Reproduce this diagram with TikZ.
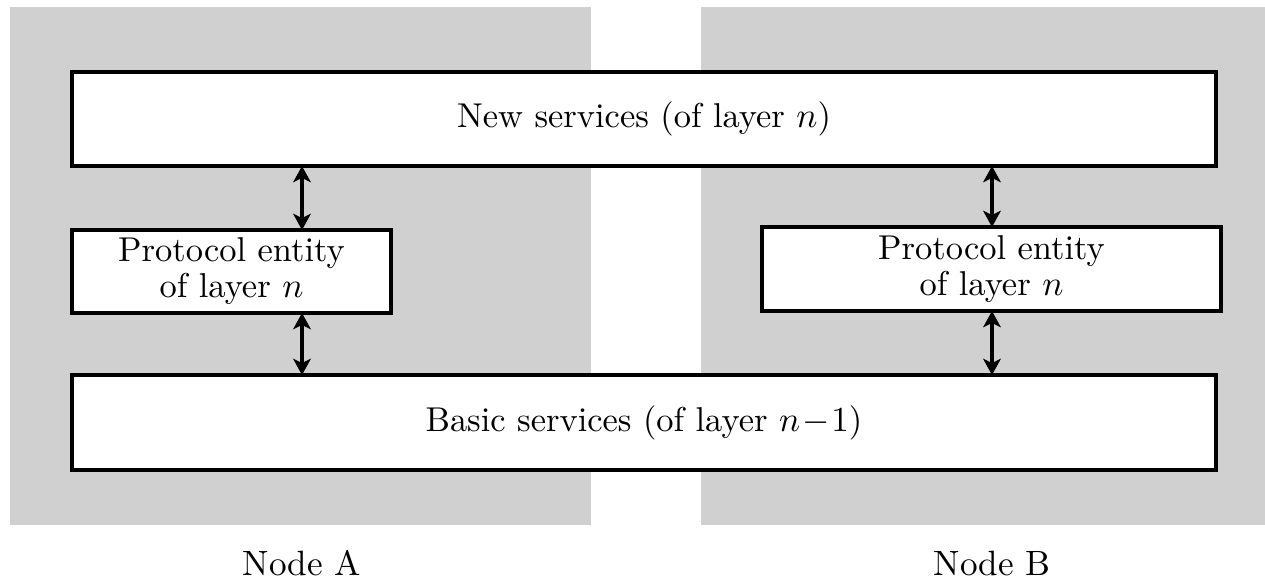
\documentclass[tikz,border=0pt]{standalone}
\usepackage{tikz}
\usetikzlibrary{arrows.meta}

\definecolor{panelgray}{RGB}{208,208,208}

\begin{document}
\begin{tikzpicture}[
    x=0.01cm, y=-0.01cm,
    panel/.style={fill=panelgray, draw=none},
    layerbox/.style={rectangle, draw=black, line width=1.15pt, fill=white,
        inner sep=2pt, outer sep=0pt, align=center,
        font=\fontsize{9.8}{10.2}\selectfont},
    caption/.style={font=\fontsize{10}{12}\selectfont},
    link/.style={line width=1pt, {Stealth[length=4.6pt,width=5pt,inset=1.2pt]}-{Stealth[length=4.6pt,width=5pt,inset=1.2pt]}}
]
    \useasboundingbox (0,0) rectangle (1265,578);
    \fill[panel] (10,7) rectangle (591,525);
    \fill[panel] (701,7) rectangle (1265,525);
    \node[layerbox, minimum width=11.44cm, minimum height=0.94cm] (newsrv) at (644,119)
        {New services (of layer $n$)};
    \node[layerbox, minimum width=3.19cm, minimum height=0.83cm] (protoA) at (231.5,271.5)
        {Protocol entity\\of layer $n$};
    \node[layerbox, minimum width=4.59cm, minimum height=0.84cm] (protoB) at (991.5,269)
        {Protocol entity\\of layer $n$};
    \node[layerbox, minimum width=11.44cm, minimum height=0.95cm] (basic) at (644,422.5)
        {Basic services (of layer $n\!-\!1$)};
    \node[caption] (nodeA) at (302,563) {Node A};
    \node[caption] (nodeB) at (992,563) {Node B};
    \coordinate (colA) at (302,0);
    \coordinate (colB) at (992,0);
    \draw[link] (newsrv.south -| colA) -- (protoA.north -| colA);
    \draw[link] (protoA.south -| colA) -- (basic.north -| colA);
    \draw[link] (newsrv.south -| colB) -- (protoB.north -| colB);
    \draw[link] (protoB.south -| colB) -- (basic.north -| colB);
\end{tikzpicture}
\end{document}
